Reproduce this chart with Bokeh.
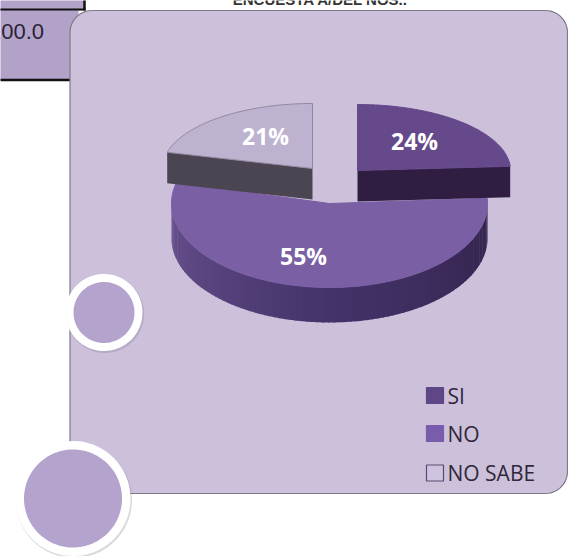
import numpy as np
from bokeh.core.properties import value
from bokeh.embed import file_html
from bokeh.models import Range1d
from bokeh.plotting import figure
from bokeh.resources import INLINE

categories = ["SI", "NO", "NO SABE"]
shares = [24, 55, 21]
top_colors = ["#65498a", "#7a5fa4", "#bdb2cf"]
cut_colors = ["#2f1d42", None, "#4a4550"]
swatch_colors = ["#5f4686", "#7a5cad", "#cfc4df"]
swatch_lines = ["#5f4686", "#7a5cad", "#5a4a72"]
title_text = "ENCUESTA A/DEL NOS.."
cell_text = "100.0"

W, H = 568, 556
CUT_DEPTH = 31
RIM_DEPTH = 35
# Each slice: centre, x radius, y radius (exploded slices sit apart from the large one)
slice_geometry = [(357, 170, 153, 66), (329, 203, 158, 84), (312, 168, 150, 65)]
label_points = [(414, 140), (303, 255), (265, 135)]

p = figure(width=W, height=H, output_backend="svg", toolbar_location=None,
           x_range=Range1d(0, W), y_range=Range1d(H, 0), min_border=0,
           background_fill_color="white", border_fill_color="white")
p.axis.visible = False
p.grid.visible = False
p.outline_line_color = None


def arc(cx, cy, rx, ry, start, stop, n=90):
    """Points on an ellipse; angles in degrees clockwise from twelve o'clock."""
    t = np.radians(np.linspace(start, stop, n))
    return cx + rx * np.sin(t), cy - ry * np.cos(t)


def mix(a, b, f):
    ca = [int(a[i:i + 2], 16) for i in (1, 3, 5)]
    cb = [int(b[i:i + 2], 16) for i in (1, 3, 5)]
    return "#%02x%02x%02x" % tuple(round(x + (y - x) * f) for x, y in zip(ca, cb))


def rounded_box(x0, y0, x1, y1, r):
    xs, ys = [], []
    for cx, cy, a0 in [(x1 - r, y0 + r, 0), (x1 - r, y1 - r, 90), (x0 + r, y1 - r, 180), (x0 + r, y0 + r, 270)]:
        ax, ay = arc(cx, cy, r, r, a0, a0 + 90, 12)
        xs += list(ax)
        ys += list(ay)
    return xs, ys


# Table cells behind the card, cut off by the page edge
p.quad(left=-2, right=84, top=-2, bottom=10, fill_color="#b2a2c8", line_color=None)
p.quad(left=-2, right=78, top=9, bottom=79, fill_color="#b2a2c8", line_color=None)
p.line([-2, 85], [9, 9], line_color="#111111", line_width=2)
p.line([84, 84], [-2, 10], line_color="#111111", line_width=2.5)
p.line([-2, 70], [79.5, 79.5], line_color="#111111", line_width=2.5)
p.text([43.5], [31], text=[cell_text], text_align="right", text_baseline="middle",
       text_font=value("Liberation Sans"), text_font_size="22px", text_color="#2a2238")

p.text([320], [-1], text=[title_text], text_align="center", text_baseline="middle",
       text_font=value("Liberation Sans"), text_font_style="bold", text_font_size="15px", text_color="#333333")

# Card
bx, by = rounded_box(69.5, 10, 567, 493, 22)
p.patch(bx, by, fill_color="#cdc0db", line_color="#7d7a88", line_width=1.2)

# Rim of the large slice, shaded in narrow strips from left to right
cx, cy, rx, ry = slice_geometry[1]
side_angles = np.linspace(90, 270, 91)
for a0, a1 in zip(side_angles[:-1], side_angles[1:]):
    ax, ay = arc(cx, cy, rx, ry, a0, a1 + 0.5, 4)
    f = (a0 - 90) / 180
    if f > 0.5:
        col = mix("#44336a", "#6a528f", (f - 0.5) * 2)
    else:
        col = mix("#33234c", "#44336a", f * 2)
    p.patch(list(ax) + list(ax[::-1]), list(ay) + list(ay[::-1] + RIM_DEPTH), fill_color=col, line_color=None)

# Flat cut faces and top faces of the slices, drawn in pie order from twelve o'clock
angle = 0.0
spans = []
for share in shares:
    sweep = share * 3.6
    spans.append((angle, angle + sweep))
    angle += sweep

order = [1, 0, 2]
for i in order:
    cx, cy, rx, ry = slice_geometry[i]
    a0, a1 = spans[i]
    ax, ay = arc(cx, cy, rx, ry, a0, a1)
    if cut_colors[i]:
        edge = a1 if i == 0 else a0
        ex, ey = arc(cx, cy, rx, ry, edge, edge, 1)
        p.patch([cx, ex[0], ex[0], cx], [cy, ey[0], ey[0] + CUT_DEPTH, cy + CUT_DEPTH],
                fill_color=cut_colors[i], line_color=None)
    p.patch([cx] + list(ax), [cy] + list(ay), fill_color=top_colors[i],
            line_color=top_colors[i] if i != 2 else "#8f889f", line_width=1)

for (lx, ly), share in zip(label_points, shares):
    p.text([lx], [ly], text=[f"{share}%"], text_align="center", text_baseline="middle",
           text_font=value("Open Sans"), text_font_style="bold", text_font_size="23px", text_color="white")

# Legend
legend_y = [395, 433, 472.5]
for name, y, fc, lc in zip(categories, legend_y, swatch_colors, swatch_lines):
    p.quad(left=426, right=443, top=y - 8, bottom=y + 8, fill_color=fc, line_color=lc, line_width=1.2)
    p.text([447], [y], text=[name], text_baseline="middle", text_font=value("Open Sans"),
           text_font_size="21px", text_color="#2e2838")

# Decorative discs with a white ring and soft shadow
for dx, dy, outer, inner in [(103.5, 312, 38.5, 30.5), (72.5, 498, 57.5, 49)]:
    t = np.linspace(0, 2 * np.pi, 120)
    p.patch(dx + 1 + (outer + 0.5) * np.cos(t), dy + 1.5 + (outer + 0.5) * np.sin(t),
            fill_color="#6f6a80", fill_alpha=0.25, line_color=None)
    p.patch(dx + outer * np.cos(t), dy + outer * np.sin(t), fill_color="white", line_color=None)
    p.patch(dx + inner * np.cos(t), dy + inner * np.sin(t), fill_color="#b3a3cd", line_color=None)

open("out.html", "w").write(file_html(p, INLINE))
